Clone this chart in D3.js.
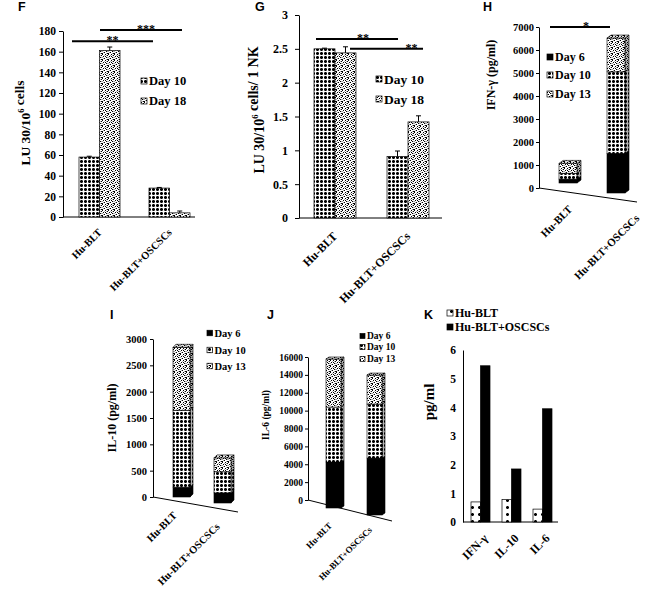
<!DOCTYPE html>
<html><head><meta charset="utf-8">
<script src="https://cdn.jsdelivr.net/npm/d3@7"></script>
<style>
body{margin:0;background:#fff}
svg{display:block}
text{font-family:"Liberation Serif","Times New Roman",serif;font-weight:bold;fill:#000}
.plet{font-family:"Liberation Sans",Arial,sans-serif}
</style>
</head><body>
<svg id="c" width="664" height="597"></svg>
<script>
// ---------------- DATA ----------------
const fgCategories = ["Hu-BLT", "Hu-BLT+OSCSCs"];
const fgSeries = ["Day 10", "Day 18"];
const fDay10 = [58, 28];
const fDay18 = [161, 4];
const fErr10 = [0.8, 0.6];
const fErr18 = [3.5, 1.8];
const fTicks = [0, 20, 40, 60, 80, 100, 120, 140, 160, 180];

const gDay10 = [2.5, 0.91];
const gDay18 = [2.44, 1.42];
const gErr10 = [0.01, 0.08];
const gErr18 = [0.09, 0.09];
const gTicks = [0, 0.5, 1, 1.5, 2, 2.5, 3];

const stackSeries = ["Day 6", "Day 10", "Day 13"];
const hDay6 = [240, 1700];
const hDay10 = [360, 3500];
const hDay13 = [600, 1450];
const hTicks = [0, 1000, 2000, 3000, 4000, 5000, 6000, 7000];

const iDay6 = [190, 175];
const iDay10 = [1480, 365];
const iDay13 = [1210, 240];
const iTicks = [0, 500, 1000, 1500, 2000, 2500, 3000];

const jDay6 = [4940, 5780];
const jDay10 = [5900, 5480];
const jDay13 = [5160, 2940];
const jTicks = [0, 2000, 4000, 6000, 8000, 10000, 12000, 14000, 16000];

const kCategories = ["IFN-γ", "IL-10", "IL-6"];
const kSeries = ["Hu-BLT", "Hu-BLT+OSCSCs"];
const kHuBLT = [0.7, 0.78, 0.45];
const kOSCSC = [5.45, 1.85, 3.95];
const kTicks = [0, 1, 2, 3, 4, 5, 6];

// ---------------- SETUP ----------------
const SERIF = '"Liberation Serif","Times New Roman",serif';
const svg = d3.select("#c");
svg.append("rect").attr("width", 664).attr("height", 597).attr("fill", "#fff");
const defs = svg.append("defs");
function pat(id, size, draw) {
  const p = defs.append("pattern").attr("id", id).attr("patternUnits", "userSpaceOnUse")
    .attr("width", size).attr("height", size);
  p.append("rect").attr("width", size).attr("height", size).attr("fill", "#fff");
  draw(p);
}
function px(p, list, col) {
  list.forEach(([a, b]) => p.append("rect").attr("x", a).attr("y", b).attr("width", 1).attr("height", 1).attr("fill", col));
}
pat("pDots", 4, p => {
  p.append("rect").attr("x", 0).attr("y", 0).attr("width", 3).attr("height", 3).attr("fill", "#000");
  px(p, [[0,0],[2,0],[0,2],[2,2]], "#666");
});
pat("pSpeck", 6, p => {
  px(p, [[0,0],[3,0],[5,1],[1,2],[4,3],[2,4],[0,5],[5,5],[3,2]], "#000");
  px(p, [[2,1],[4,5],[1,4],[5,3],[0,3],[4,1]], "#aaa");
});
pat("pSparse", 7, p => {
  p.append("rect").attr("x", 2).attr("y", 2).attr("width", 3).attr("height", 3).attr("fill", "#000");
  px(p, [[2,2],[4,2],[2,4],[4,4]], "#777");
});

function yAxis(g, y, ticks, x, fs, tick, pad, fmt) {
  const a = d3.axisLeft(y).tickValues(ticks).tickSizeInner(tick).tickSizeOuter(0).tickPadding(pad);
  a.tickFormat(fmt || (d => d));
  const ga = g.append("g").attr("transform", `translate(${x},0)`).call(a);
  ga.attr("font-family", SERIF).attr("font-size", fs).attr("font-weight", "bold");
  ga.selectAll("path,line").attr("stroke", "#000").attr("stroke-width", 1);
  ga.selectAll("text").attr("fill", "#000");
  return ga;
}
function title(g, x, y, fs, parts) {
  const t = g.append("text").attr("transform", `translate(${x},${y}) rotate(-90)`)
    .attr("text-anchor", "middle").attr("dy", "0.35em").attr("font-size", fs);
  parts.forEach(p => {
    if (p.sup) {
      t.append("tspan").attr("font-size", fs * 0.62).attr("dy", -fs * 0.4).text(p.sup);
      t.append("tspan").attr("dy", fs * 0.4).text("");
    } else t.append("tspan").text(p.t);
  });
}
function legend(g, names, fills, x, ys, fs, box) {
  names.forEach((n, i) => {
    g.append("rect").attr("x", x).attr("y", ys[i] - box / 2).attr("width", box).attr("height", box)
      .attr("fill", fills[i]).attr("stroke", "#000").attr("stroke-width", 0.7);
    g.append("text").attr("x", x + box + 2).attr("y", ys[i]).attr("dy", "0.35em").attr("font-size", fs).text(n);
  });
}
function xLabel(g, x, y, fs, txt) {
  g.append("text").attr("transform", `translate(${x},${y}) rotate(-45)`).attr("text-anchor", "end")
    .attr("font-size", fs).text(txt);
}
function letter(x, y, t) {
  svg.append("text").attr("class", "plet").attr("x", x).attr("y", y).attr("font-size", 12.5).text(t);
}

// ---------------- GROUPED (F, G) ----------------
function grouped(o) {
  const g = svg.append("g");
  const y = d3.scaleLinear().domain([0, o.max]).range([o.y0, o.y1]);
  yAxis(g, y, o.ticks, o.ax, o.fs, o.tick, o.tpad);
  g.append("line").attr("x1", o.ax).attr("x2", o.axEnd).attr("y1", y(0)).attr("y2", y(0)).attr("stroke", "#000");
  const x0 = d3.scaleBand().domain(fgCategories).range(o.xr).paddingInner(o.pad);
  const x1 = d3.scaleBand().domain(fgSeries).range([0, x0.bandwidth()]);
  fgCategories.forEach((c, i) => {
    o.series.forEach((arr, s) => {
      const bx = x0(c) + x1(fgSeries[s]), w = x1.bandwidth();
      g.append("rect").attr("x", bx).attr("y", y(arr[i])).attr("width", w).attr("height", y(0) - y(arr[i]))
        .attr("fill", o.fills[s]).attr("stroke", "#000").attr("stroke-width", 0.7);
      const e = o.errs[s][i], cx = bx + w / 2;
      g.append("line").attr("x1", cx).attr("x2", cx).attr("y1", y(arr[i])).attr("y2", y(arr[i] + e)).attr("stroke", "#000");
      g.append("line").attr("x1", cx - 2.5).attr("x2", cx + 2.5).attr("y1", y(arr[i] + e)).attr("y2", y(arr[i] + e)).attr("stroke", "#000");
    });
    xLabel(g, x0(c) + x0.bandwidth() / 2 + o.lx, y(0) + o.ly, o.lfs, c);
  });
  o.sig.forEach(s => {
    const xa = x0(fgCategories[0]) + s.a, xb = x0(fgCategories[1]) + s.b, yy = y(s.v);
    g.append("line").attr("x1", xa).attr("x2", xb).attr("y1", yy).attr("y2", yy).attr("stroke", "#000").attr("stroke-width", 2);
    g.append("text").attr("x", (xa + xb) / 2 + s.sx).attr("y", yy + s.sy).attr("text-anchor", "middle")
      .attr("font-size", o.sfs).attr("fill", "#000").text(s.t);
  });
  legend(g, fgSeries, o.fills, o.legX, o.legY, o.legFs, 6);
  title(g, o.tx, o.ty, o.tfs, o.title);
  return g;
}

grouped({
  max: 180, y0: 217, y1: 31, ticks: fTicks, ax: 63, axEnd: 195, fs: 11.5, tick: 4, tpad: 3,
  xr: [79, 190], pad: 0.414, series: [fDay10, fDay18], errs: [fErr10, fErr18], fills: ["url(#pDots)", "url(#pSpeck)"],
  lx: 3, ly: 16, lfs: 10.5,
  sig: [{a: -7, b: 4, v: 170, t: "**", sx: 0, sy: 3}, {a: 21, b: 33, v: 181, t: "***", sx: 5, sy: 3}], sfs: 12,
  legX: 141, legY: [81, 101], legFs: 12.5,
  tx: 25, ty: 123, tfs: 13.5, title: [{t: "LU 30/10"}, {sup: "6"}, {t: " cells"}]
});
grouped({
  max: 3, y0: 218, y1: 15, ticks: gTicks, ax: 299, axEnd: 442, fs: 12, tick: 4, tpad: 7,
  xr: [314, 429], pad: 0.425, series: [gDay10, gDay18], errs: [gErr10, gErr18], fills: ["url(#pDots)", "url(#pSpeck)"],
  lx: 3, ly: 19, lfs: 12,
  sig: [{a: 2, b: 11, v: 2.645, t: "**", sx: 6, sy: 3}, {a: 36, b: 36, v: 2.5, t: "**", sx: 25, sy: 3}], sfs: 12,
  legX: 376, legY: [79, 99], legFs: 13.5,
  tx: 259, ty: 110, tfs: 14, title: [{t: "LU 30/10"}, {sup: "6"}, {t: " cells/ 1 NK"}]
});

// ---------------- 3D STACKED (H, I, J) ----------------
function stacked3D(o) {
  const g = svg.append("g");
  const y = d3.scaleLinear().domain([0, o.max]).range([o.y0, o.y1]);
  yAxis(g, y, o.ticks, o.ax, o.fs, o.tick, o.tpad);
  g.append("line").attr("x1", o.ax).attr("y1", o.y0).attr("x2", o.floorEnd[0]).attr("y2", o.floorEnd[1]).attr("stroke", "#000");
  const floorY = d3.scaleLinear().domain([o.ax, o.floorEnd[0]]).range([o.y0, o.floorEnd[1]]);
  const x = d3.scaleBand().domain(fgCategories).range(o.xr).paddingInner(o.pad);
  const bottomAt = d3.scaleLinear().domain(o.bDom).range(o.bRange);
  const fills = ["#000", "url(#pDots)", "url(#pSpeck)"];
  fgCategories.forEach((c, i) => {
    const vals = o.data.map(a => a[i]);
    const total = d3.sum(vals);
    const w = x.bandwidth(), bx = x(c), cx = bx + w / 2;
    const s = d3.scaleLinear().domain([0, total]).range([bottomAt(cx), y(total) + o.off]);
    let cum = 0;
    vals.forEach((v, k) => {
      const yb = s(cum), yt = s(cum + v); cum += v;
      const side = `M${bx + w},${yb}L${bx + w + o.dx},${yb + o.dy}L${bx + w + o.dx},${yt + o.dy}L${bx + w},${yt}Z`;
      g.append("path").attr("d", side).attr("fill", fills[k]).attr("stroke", "#000").attr("stroke-width", 0.6);
      g.append("path").attr("d", side).attr("fill", "rgba(0,0,0,0.3)");
      g.append("rect").attr("x", bx).attr("y", yt).attr("width", w).attr("height", yb - yt)
        .attr("fill", fills[k]).attr("stroke", "#000").attr("stroke-width", 0.6);
    });
    const top = s(total);
    const tf = `M${bx},${top}L${bx + o.dx},${top + o.dy}L${bx + w + o.dx},${top + o.dy}L${bx + w},${top}Z`;
    g.append("path").attr("d", tf).attr("fill", fills[2]).attr("stroke", "#000").attr("stroke-width", 0.6);
    g.append("path").attr("d", tf).attr("fill", "rgba(0,0,0,0.12)");
    xLabel(g, cx + o.lx[i], floorY(cx) + o.ly[i], o.lfs, c);
  });
  if (o.sig) {
    const xa = x(fgCategories[0]) + o.sig.a, xb = x(fgCategories[1]) + o.sig.b, yy = y(o.sig.v);
    g.append("line").attr("x1", xa).attr("x2", xb).attr("y1", yy).attr("y2", yy).attr("stroke", "#000").attr("stroke-width", 2);
    g.append("text").attr("x", (xa + xb) / 2 + o.sig.sx).attr("y", yy + 3).attr("text-anchor", "middle")
      .attr("font-size", 12).attr("fill", "#000").text(o.sig.t);
  }
  legend(g, stackSeries, fills, o.legX, o.legY, o.legFs, o.legBox);
  title(g, o.tx, o.ty, o.tfs, o.title);
}

stacked3D({
  max: 7000, y0: 188, y1: 27, ticks: hTicks, ax: 539, fs: 10.5, tick: 3, tpad: 2,
  floorEnd: [637, 202], xr: [559, 625], pad: 0.625, bDom: [568, 616], bRange: [183, 193], off: 3, dx: 4, dy: -3,
  data: [hDay6, hDay10, hDay13], lx: [5, 24], ly: [18, 20], lfs: 11,
  sig: {a: -9, b: 3, v: 7000, t: "*", sx: 6},
  legX: 547, legY: [57, 75, 94], legFs: 12, legBox: 6,
  tx: 491, ty: 75, tfs: 12, title: [{t: "IFN-γ (pg/ml)"}]
});
stacked3D({
  max: 3000, y0: 497, y1: 339, ticks: iTicks, ax: 153, fs: 10.5, tick: 3, tpad: 3,
  floorEnd: [238, 512], xr: [173, 231], pad: 0.585, bDom: [181.5, 222.5], bRange: [497, 503], off: 2, dx: 3, dy: -3,
  data: [iDay6, iDay10, iDay13], lx: [-4, -2], ly: [14, 18], lfs: 10.5,
  legX: 207, legY: [333, 350, 366], legFs: 10.5, legBox: 5.5,
  tx: 112, ty: 418, tfs: 12, title: [{t: "IL-10 (pg/ml)"}]
});
stacked3D({
  max: 16000, y0: 500, y1: 357, ticks: jTicks, ax: 308, fs: 9.5, tick: 3, tpad: 2,
  floorEnd: [392, 521], xr: [326, 382], pad: 0.634, bDom: [333.5, 374.5], bRange: [508, 515], off: 2, dx: 3, dy: -2,
  data: [jDay6, jDay10, jDay13], lx: [-1, -2], ly: [20, 14], lfs: 9,
  legX: 360, legY: [336, 347, 359], legFs: 9.5, legBox: 5,
  tx: 266, ty: 415, tfs: 9.5, title: [{t: "IL-6 (pg/ml)"}]
});

// ---------------- K ----------------
(function () {
  const g = svg.append("g");
  const y = d3.scaleLinear().domain([0, 6]).range([522, 350]);
  yAxis(g, y, kTicks, 463, 11.5, 0, 7);
  g.append("line").attr("x1", 463).attr("x2", 558).attr("y1", y(0)).attr("y2", y(0)).attr("stroke", "#000");
  const x0 = d3.scaleBand().domain(kCategories).range([471, 552]).paddingInner(0.387);
  const x1 = d3.scaleBand().domain(kSeries).range([0, x0.bandwidth()]);
  const fills = ["url(#pSparse)", "#000"];
  [kHuBLT, kOSCSC].forEach((arr, s) => {
    kCategories.forEach((c, i) => {
      g.append("rect").attr("x", x0(c) + x1(kSeries[s])).attr("y", y(arr[i])).attr("width", x1.bandwidth())
        .attr("height", y(0) - y(arr[i])).attr("fill", fills[s]).attr("stroke", "#000").attr("stroke-width", 0.7);
    });
  });
  kCategories.forEach(c => xLabel(g, x0(c) + x0.bandwidth() / 2 + 8, y(0) + 17, 12, c));
  legend(g, kSeries, fills, 447, [313, 327], 12, 6);
  title(g, 429, 402, 15, [{t: "pg/ml"}]);
})();

letter(18, 11, "F");
letter(255, 11, "G");
letter(483, 11, "H");
letter(110, 319, "I");
letter(267, 319, "J");
letter(424, 319, "K");
</script>
</body></html>
